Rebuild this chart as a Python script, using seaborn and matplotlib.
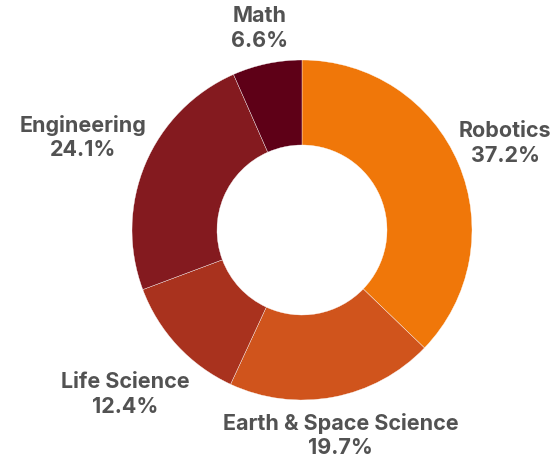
import matplotlib
matplotlib.use("Agg")
import matplotlib.pyplot as plt
import seaborn as sns
import numpy as np

# data
categories = ['Robotics', 'Earth & Space Science', 'Life Science', 'Engineering', 'Math']
shares = [37.2, 19.7, 12.4, 24.1, 6.6]
colors = ['#F07709', '#D0541C', '#A9321E', '#841A1F', '#5E0017']
label_dist = [1.30, 1.23, 1.42, 1.40, 1.21]

sns.set_theme(style='white')
plt.rcParams['font.family'] = ['Inter', 'DejaVu Sans']

fig = plt.figure(figsize=(5.58, 4.66), dpi=100)
ax = fig.add_axes([0, 0, 1, 1])

wedges, _ = ax.pie(shares, colors=colors, startangle=90, counterclock=False,
                   radius=1.0, wedgeprops=dict(width=0.5, edgecolor='white', linewidth=0.25))

for w, cat, val, d in zip(wedges, categories, shares, label_dist):
    mid = np.deg2rad((w.theta1 + w.theta2) / 2)
    ax.text(d * np.cos(mid), d * np.sin(mid), f'{cat}\n{val}%',
            ha='center', va='center', fontsize=15.5, fontweight='bold',
            color='#525252', linespacing=1.3)

# center at (302, 230) px, radius 170 px
ax.set_xlim(-302 / 170, (558 - 302) / 170)
ax.set_ylim(-(466 - 230) / 170, 230 / 170)
ax.set_aspect('auto')
ax.axis('off')

fig.savefig('out.png', dpi=100)
